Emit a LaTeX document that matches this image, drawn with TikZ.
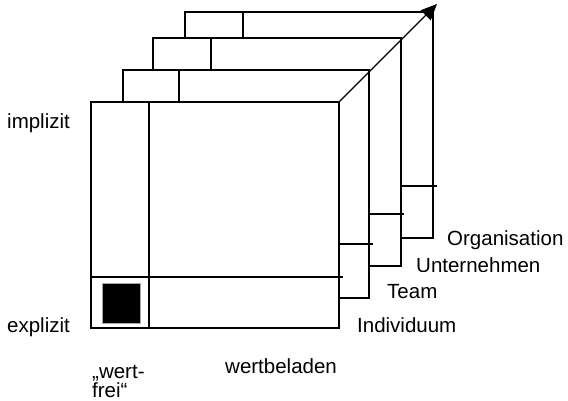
\documentclass[tikz,border=0pt]{standalone}
\usepackage{fontspec}
\setmainfont{Liberation Sans}
\usetikzlibrary{arrows.meta}

\begin{document}
\begin{tikzpicture}[x=1pt, y=-1pt,
    frame/.style={line width=1.2pt, line cap=rect},
    lbl/.style={anchor=base west, inner sep=0pt, font=\fontsize{20.5}{20}\selectfont, text=black},
    axisarrow/.style={line width=1.2pt, -{Triangle[length=16pt,width=14pt]}}]
  \useasboundingbox (0,0) rectangle (568,401);

  % layer 4 (Organisation), drawn back to front
  \draw[frame] (185,38) -- (185,12) -- (433,12) -- (433,238) -- (401,238);
  \draw[frame] (243,12) -- (243,38);
  \draw[frame] (401,186) -- (436,186);

  % layer 3 (Unternehmen)
  \draw[frame] (153,70) -- (153,38) -- (401,38) -- (401,266) -- (369,266);
  \draw[frame] (211,38) -- (211,70);
  \draw[frame] (369,214) -- (403,214);

  % layer 2 (Team)
  \draw[frame] (123,102) -- (123,70) -- (369,70) -- (369,298) -- (339,298);
  \draw[frame] (179,70) -- (179,102);
  \draw[frame] (339,244) -- (372,244);

  % front layer (Individuum)
  \draw[frame] (91,102) rectangle (339,328);
  \draw[frame] (149,102) -- (149,328);
  \draw[frame] (91,277) -- (342,277);
  \node[draw=black!35, line width=0.4pt, fill=black, minimum width=38pt, minimum height=40pt,
        inner sep=0pt] (cell) at (121,303) {};

  % depth axis through the layer corners
  \coordinate (front) at (339,102);
  \coordinate (tip) at (437,4);
  \draw[axisarrow] (front) -- (tip);

  % axis labels
  \node[lbl] (impl) at (7,129) {implizit};
  \node[lbl] (expl) at (7,332) {explizit};
  \node[lbl] (wertA) at (92,378) {„wert-};
  \node[lbl] (wertB) at (92,397) {frei“};
  \node[lbl] (wert) at (225,373) {wertbeladen};

  % layer labels
  \node[lbl] (indiv) at (357,332) {Individuum};
  \node[lbl] (team) at (387,298) {Team};
  \begin{scope}
    \clip (400,250) rectangle (568,271.5);
    \node[lbl] (unter) at (416,272.5) {Unternehmen};
  \end{scope}
  \begin{scope}
    \clip (440,220) rectangle (568,249);
    \node[lbl] (orga) at (447,245.5) {Organisation};
  \end{scope}
\end{tikzpicture}
\end{document}
